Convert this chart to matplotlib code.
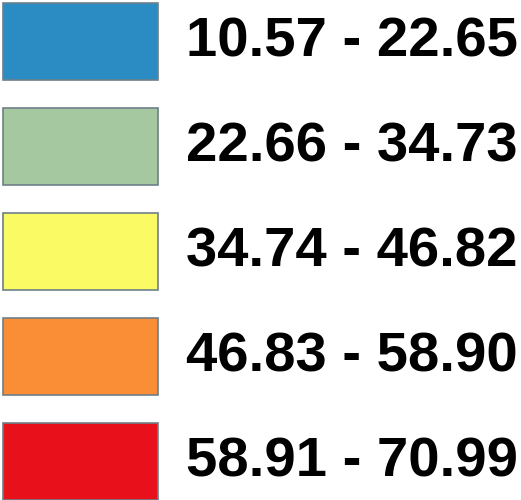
import matplotlib
matplotlib.use("Agg")
import matplotlib.pyplot as plt
from matplotlib.patches import Rectangle

labels = ["10.57 - 22.65", "22.66 - 34.73", "34.74 - 46.82", "46.83 - 58.90", "58.91 - 70.99"]
colors = ["#2B8CC4", "#A6C8A0", "#FAFA64", "#F98E36", "#E8101A"]

fig = plt.figure(figsize=(5.21, 5.00), dpi=100)
ax = fig.add_axes([0, 0, 1, 1])
ax.set_xlim(0, 521)
ax.set_ylim(500, 0)
ax.axis("off")

for i, (lab, col) in enumerate(zip(labels, colors)):
    y0 = 2.5 + i * 105
    ax.add_patch(Rectangle((2.5, y0), 155, 77, facecolor=col, edgecolor="#6E7F88", linewidth=1.2))
    ax.text(186, y0 + 40, lab, fontsize=40.5, fontweight="bold", family="Liberation Sans",
            va="center", ha="left", color="black")

fig.savefig("out.png", dpi=100)
